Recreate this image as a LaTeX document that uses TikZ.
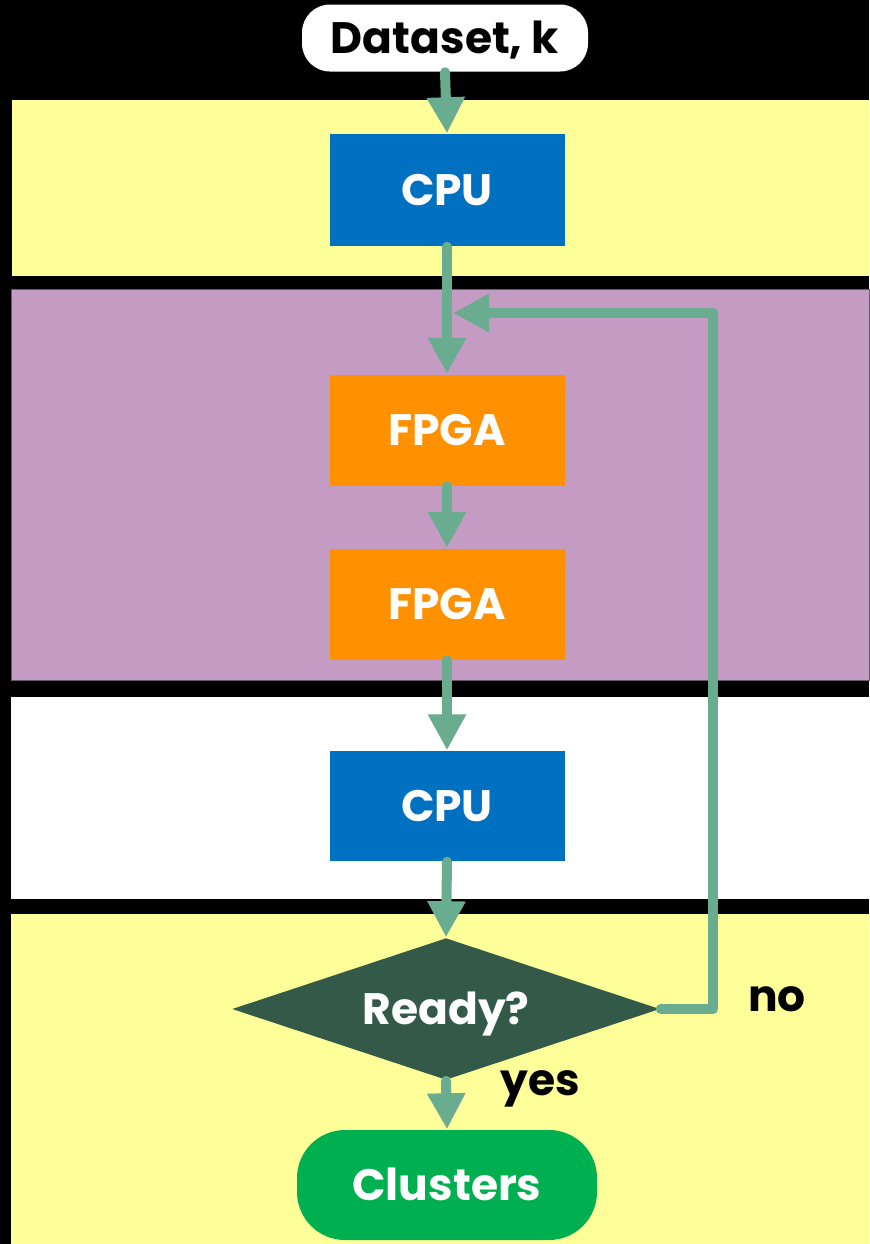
\documentclass[tikz,border=0pt]{standalone}
\usepackage{fontspec}
\setmainfont{Poppins}
\usetikzlibrary{arrows.meta,shapes.geometric,positioning}
\definecolor{bandyellow}{HTML}{FFFF99}
\definecolor{bandpurple}{HTML}{C49CC3}
\definecolor{cpublue}{HTML}{0070C0}
\definecolor{fpgaorange}{HTML}{FF9000}
\definecolor{decisiongreen}{HTML}{335A48}
\definecolor{flowgreen}{HTML}{6AAC8F}
\definecolor{endgreen}{HTML}{00B050}
\tikzset{every picture/.style={line width=0.75pt}}

\begin{document}
\begin{tikzpicture}[x=0.5pt,y=-0.5pt,
    label font/.style={font=\fontsize{22}{26}\selectfont\bfseries, text height=15.5pt, text depth=0pt},
    procbox/.style={label font, text=white, inner sep=0pt, minimum width=117.5pt, minimum height=56pt},
    flow/.style={line width=5pt, flowgreen, line cap=round, line join=round,
        -{Triangle[length=18pt,width=18pt]}}]
    % 背景与分区
    \fill[black] (0,0) rectangle (869,1244);
    \useasboundingbox (0,0) rectangle (869,1244);
    \fill[bandyellow] (12,100) rectangle (869,276);
    \filldraw[fill=bandpurple, draw=bandpurple!55!black, line width=0.5pt] (11,289) rectangle (869,680);
    \fill[white] (11,697) rectangle (869,899);
    \fill[bandyellow] (11,914) rectangle (869,1244);

    % 节点
    \node[label font, fill=white, rounded corners=14pt, minimum width=143pt, minimum height=33.5pt, inner sep=0pt]
        (data) at (445,38) {Dataset, k};
    \node[procbox, fill=cpublue] (cpuA) at (447,190) {CPU};
    \node[procbox, fill=fpgaorange, minimum height=55.5pt] (fpgaA) at (447,430) {FPGA};
    \node[procbox, fill=fpgaorange, minimum height=55.5pt] (fpgaB) at (447,604) {FPGA};
    \node[procbox, fill=cpublue, minimum height=55pt] (cpuB) at (447,806) {CPU};
    \node[label font, text=white, diamond, fill=decisiongreen, aspect=3, inner sep=0pt,
        minimum width=214pt, minimum height=71pt] (ready) at (446,1009) {Ready?};
    \node[label font, text=white, fill=endgreen, rounded corners=24pt, inner sep=0pt,
        minimum width=150pt, minimum height=55pt] (clusters) at (447,1185) {Clusters};

    % 标注
    \node[label font] (no) at (777,996) {no};
    \node[label font] (yes) at (540,1080) {yes};

    % 连线
    \coordinate (turn) at (713,313);
    \coordinate (join) at (453,313);
    \draw[flow] (data.south) -- (cpuA.north);
    \draw[flow] (cpuA.south) -- (fpgaA.north);
    \draw[flow] (fpgaA.south) -- (fpgaB.north);
    \draw[flow] (fpgaB.south) -- (cpuB.north);
    \draw[flow] (cpuB.south) -- (ready.north);
    \draw[flow] (ready.south) -- (clusters.north);
    \draw[flow] (ready.east) -| (turn) -- (join);
\end{tikzpicture}
\end{document}
